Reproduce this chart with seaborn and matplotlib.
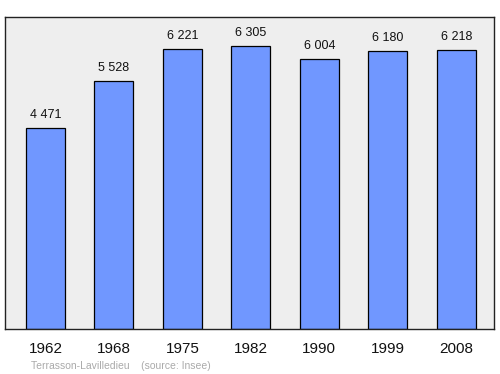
import matplotlib
matplotlib.use("Agg")
import matplotlib.pyplot as plt
import seaborn as sns
import pandas as pd

years = ["1962", "1968", "1975", "1982", "1990", "1999", "2008"]
population = [4471, 5528, 6221, 6305, 6004, 6180, 6218]
value_labels = ["4 471", "5 528", "6 221", "6 305", "6 004", "6 180", "6 218"]
footer = "Terrasson-Lavilledieu    (source: Insee)"

sns.set_theme(style="white")
plt.rcParams['font.family'] = ['Liberation Sans', 'DejaVu Sans']

df = pd.DataFrame({"year": years, "pop": population})

fig = plt.figure(figsize=(5, 3.74), dpi=100)
ax = fig.add_axes([0.01, 0.1203, 0.978, 0.834])
ax.set_facecolor("#eeeeee")

sns.barplot(data=df, x="year", y="pop", ax=ax, color="#7097ff", width=0.57,
            edgecolor="black", linewidth=0.9, saturation=1)

for i, (v, lab) in enumerate(zip(population, value_labels)):
    ax.annotate(lab, (i, v), xytext=(0, 5), textcoords="offset points",
                ha="center", va="bottom", fontsize=9, color="#111111")

ax.set_xlim(-0.59, 6.55)
ax.set_ylim(0, 6940)
ax.set_yticks([])
ax.set_xlabel("")
ax.set_ylabel("")
ax.tick_params(axis="x", length=0, labelsize=11, pad=9, colors="#111111")
for s in ax.spines.values():
    s.set_visible(True)
    s.set_color("#222222")
    s.set_linewidth(1.0)

fig.text(0.062, 0.008, footer, fontsize=7.5, color="#aaaaaa", ha="left", va="bottom")

fig.savefig("out.png", dpi=100)
